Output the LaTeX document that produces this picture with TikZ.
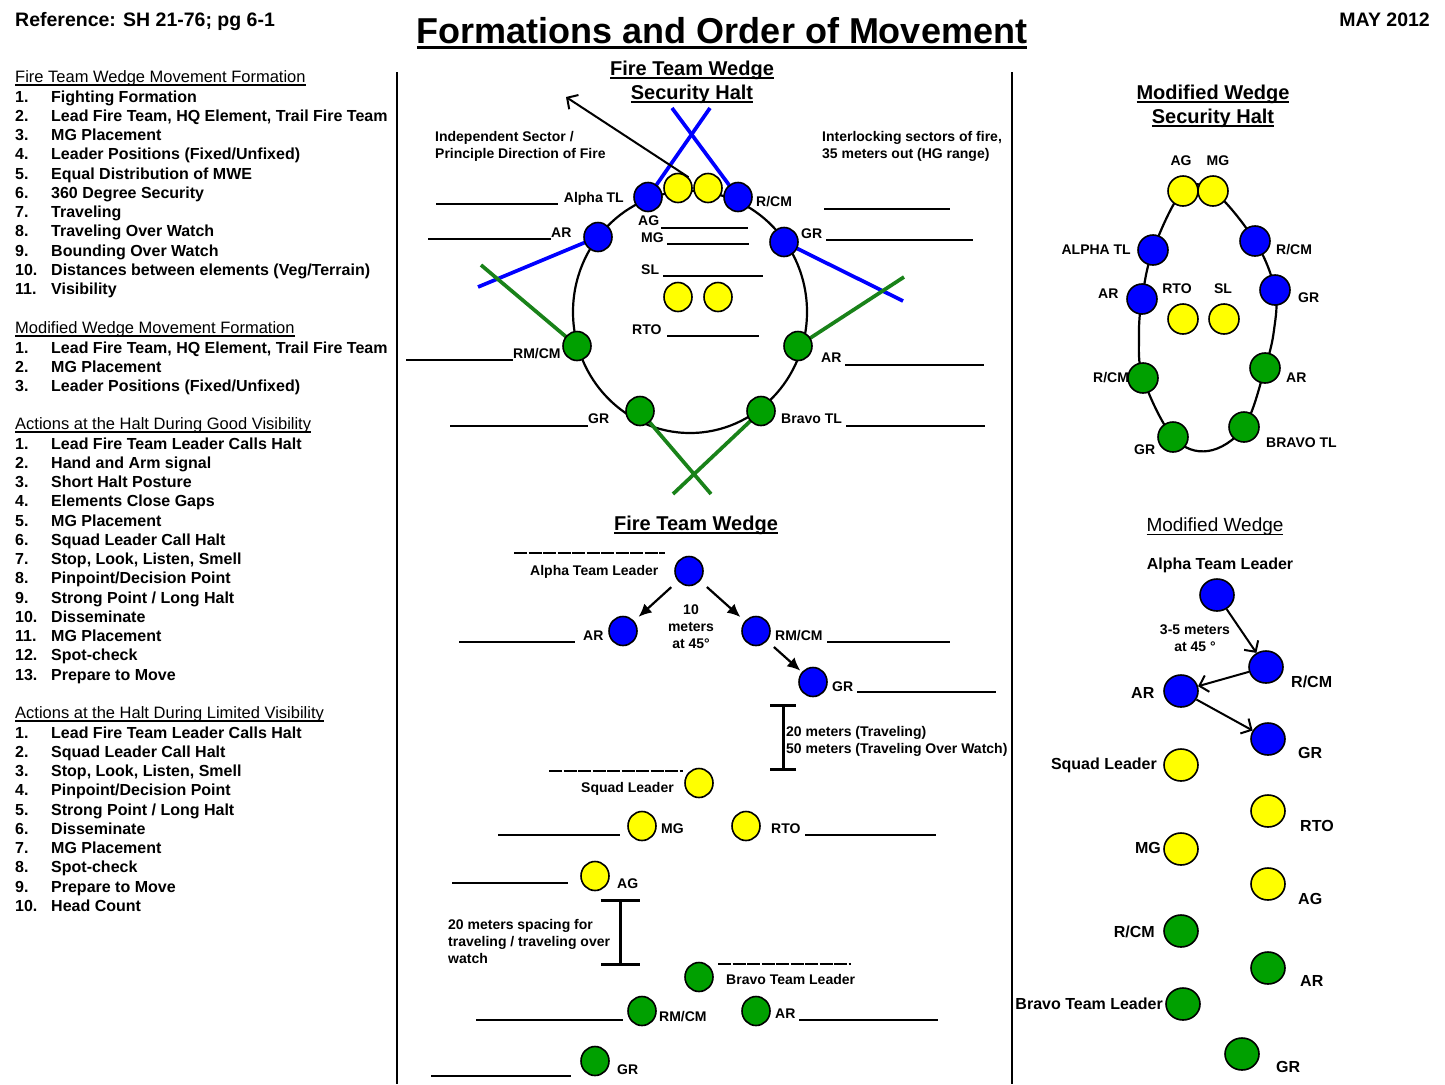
\documentclass[tikz,border=0pt]{standalone}
\usepackage{fontspec}
\setmainfont{Liberation Sans}
\usetikzlibrary{arrows.meta,shapes.geometric,backgrounds}

\definecolor{teamblue}{RGB}{0,0,255}
\definecolor{teamyellow}{RGB}{255,255,0}
\definecolor{teamgreen}{RGB}{0,160,0}
\definecolor{sectorgreen}{RGB}{25,130,25}

\newcommand\ulined[1]{\setbox0=\hbox{#1}\rlap{\rule[-0.17em]{\wd0}{0.08em}}\box0}

\tikzset{
  dot/.style={ellipse, draw, line width=1.6pt, inner sep=0pt, minimum width=28pt, minimum height=29pt},
  bdot/.style={dot, fill=teamblue},
  ydot/.style={dot, fill=teamyellow},
  gdot/.style={dot, fill=teamgreen},
  bigdot/.style={minimum width=34pt, minimum height=32pt},
  middot/.style={minimum width=30pt, minimum height=30pt},
  lab/.style={inner sep=0pt, font=\fontsize{14}{17}\selectfont\bfseries, text height=10pt, text depth=0pt},
  biglab/.style={lab, font=\fontsize{16}{19}\selectfont\bfseries, text height=11.5pt},
  item/.style={biglab, anchor=west},
  head/.style={item, font=\fontsize{16.5}{19}\selectfont},
  note/.style={inner sep=0pt, font=\fontsize{14}{17}\selectfont\bfseries, align=left, anchor=north west},
  title/.style={inner sep=0pt, font=\fontsize{20}{24}\selectfont\bfseries, align=center, anchor=north},
  blank/.style={line width=1.3pt},
  dashblank/.style={line width=1.3pt, dash pattern=on 13pt off 1.5pt},
  sector/.style={line width=3.7pt, line cap=butt},
  egg/.style={line width=2.2pt},
  solidarrow/.style={line width=2.2pt, -{Latex[length=13pt,width=12pt]}},
  openarrow/.style={line width=2pt, -{Straight Barb[length=8pt,width=17pt,line width=2pt]}},
  gap/.style={line width=3pt, {Bar[width=26pt]}-{Bar[width=26pt]}}
}

\begin{document}
\begin{tikzpicture}[x=1pt,y=-1pt]
\begin{scope}[on background layer]
  \fill[white] (0,0) rectangle (1445,1084);
\end{scope}
\useasboundingbox (0,0) rectangle (1445,1084);

% Header
\node[lab, anchor=west, font=\fontsize{19.5}{23}\selectfont\bfseries, text height=14pt] (ref) at (15,20) {Reference: SH 21-76; pg 6-1};
\node[lab, anchor=east, font=\fontsize{19.5}{23}\selectfont\bfseries, text height=14pt] (date) at (1430,20) {MAY 2012};
\node[lab, font=\fontsize{36}{40}\selectfont\bfseries, text height=26pt] (maintitle) at (722,30) {\ulined{Formations and Order of Movement}};

% Dividers
\draw[line width=2.5pt] (397,72) -- (397,1084);
\draw[line width=2.5pt] (1012,72) -- (1012,1084);

% Left column lists
\node[head] (h1) at (15,77) {\ulined{Fire Team Wedge Movement Formation}};
\foreach \txt [count=\i] in {Fighting Formation, {Lead Fire Team, HQ Element, Trail Fire Team}, MG Placement, Leader Positions (Fixed/Unfixed), Equal Distribution of MWE, 360 Degree Security, Traveling, Traveling Over Watch, Bounding Over Watch, Distances between elements (Veg/Terrain), Visibility}{
  \node[item] (an\i) at (15,{77+\i*19.25}) {\i.};
  \node[item] (at\i) at (51,{77+\i*19.25}) {\txt};
}
\node[head] (h2) at (15,328) {\ulined{Modified Wedge Movement Formation}};
\foreach \txt [count=\i] in {{Lead Fire Team, HQ Element, Trail Fire Team}, MG Placement, Leader Positions (Fixed/Unfixed)}{
  \node[item] (bn\i) at (15,{328+\i*19.25}) {\i.};
  \node[item] (bt\i) at (51,{328+\i*19.25}) {\txt};
}
\node[head] (h3) at (15,424) {\ulined{Actions at the Halt During Good Visibility}};
\foreach \txt [count=\i] in {Lead Fire Team Leader Calls Halt, Hand and Arm signal, Short Halt Posture, Elements Close Gaps, MG Placement, Squad Leader Call Halt, {Stop, Look, Listen, Smell}, Pinpoint/Decision Point, Strong Point / Long Halt, Disseminate, MG Placement, Spot-check, Prepare to Move}{
  \node[item] (cn\i) at (15,{424+\i*19.25}) {\i.};
  \node[item] (ct\i) at (51,{424+\i*19.25}) {\txt};
}
\node[head] (h4) at (15,713) {\ulined{Actions at the Halt During Limited Visibility}};
\foreach \txt [count=\i] in {Lead Fire Team Leader Calls Halt, Squad Leader Call Halt, {Stop, Look, Listen, Smell}, Pinpoint/Decision Point, Strong Point / Long Halt, Disseminate, MG Placement, Spot-check, Prepare to Move, Head Count}{
  \node[item] (dn\i) at (15,{713+\i*19.25}) {\i.};
  \node[item] (dt\i) at (51,{713+\i*19.25}) {\txt};
}

% Fire team wedge - security halt
\node[title] (sh1) at (692,60.6) {\ulined{Fire Team Wedge}\\\ulined{Security Halt}};
\node[note] (indep) at (435,131) {Independent Sector /\\Principle Direction of Fire};
\node[note] (inter) at (822,131) {Interlocking sectors of fire,\\35 meters out (HG range)};

\node[bdot] (atl) at (648,197) {};
\node[ydot] (ag) at (678,188) {};
\node[ydot] (mg) at (708,188) {};
\node[bdot] (rcm) at (738,197) {};
\node[bdot] (ar) at (598,237) {};
\node[bdot] (gr) at (784,242) {};
\node[ydot] (sl) at (678,297) {};
\node[ydot] (rto) at (718,297) {};
\node[gdot] (rmcm) at (577,346) {};
\node[gdot] (bar) at (798,346) {};
\node[gdot] (bgr) at (640,411) {};
\node[gdot] (btl) at (761,411) {};

\coordinate (atlend) at (710,108);
\coordinate (rcmend) at (672,108);
\coordinate (arend) at (478,287);
\coordinate (grend) at (903,301);
\coordinate (rmcmend) at (481,265);
\coordinate (barend) at (904,277);
\coordinate (bgrend) at (711,494);
\coordinate (btlend) at (673,494);
\coordinate (dirtip) at (566,97);

\begin{scope}[on background layer]
  \draw[egg] (690,312) ellipse [x radius=117, y radius=121];
  \draw[sector, teamblue] (atl.center) -- (atlend);
  \draw[sector, teamblue] (rcm.center) -- (rcmend);
  \draw[sector, teamblue] (ar.center) -- (arend);
  \draw[sector, teamblue] (gr.center) -- (grend);
  \draw[sector, sectorgreen] (rmcm.center) -- (rmcmend);
  \draw[sector, sectorgreen] (bar.center) -- (barend);
  \draw[sector, sectorgreen] (bgr.center) -- (bgrend);
  \draw[sector, sectorgreen] (btl.center) -- (btlend);
\end{scope}
\draw[openarrow] (ag.north east) -- (dirtip);

\node[lab, anchor=east] (latl) at (624,197) {Alpha TL};
\node[lab, anchor=west] (lrcm) at (756,201) {R/CM};
\node[lab, anchor=west] (lag) at (638,220) {AG};
\node[lab, anchor=west] (lmg) at (641,237) {MG};
\node[lab, anchor=west] (lsl) at (641,269) {SL};
\node[lab, anchor=west] (lrto) at (632,329) {RTO};
\node[lab, anchor=west] (lar) at (551,232) {AR};
\node[lab, anchor=west] (lgr) at (801,233) {GR};
\node[lab, anchor=west] (lrmcm) at (513,353) {RM/CM};
\node[lab, anchor=west] (lbar) at (821,357) {AR};
\node[lab, anchor=west] (lbgr) at (588,418) {GR};
\node[lab, anchor=west] (lbtl) at (781,418) {Bravo TL};
\foreach \xa/\xb/\yy in {436/558/204, 824/950/209, 661/748/228, 667/749/244, 663/763/276, 667/759/336, 428/551/239, 826/973/240, 406/513/360, 845/984/365, 450/588/426, 846/985/426}
  \draw[blank] (\xa,\yy) -- (\xb,\yy);

% Fire team wedge - movement
\node[lab, font=\fontsize{20}{24}\selectfont\bfseries, text height=14.3pt] (fw) at (696,523) {\ulined{Fire Team Wedge}};
\node[bdot] (atl2) at (689,571) {};
\node[bdot] (ar2) at (623,631) {};
\node[bdot] (rmcm2) at (756,631) {};
\node[bdot] (gr2) at (813,682) {};
\node[ydot] (sl2) at (699,783) {};
\node[ydot] (mg2) at (642,826) {};
\node[ydot] (rto2) at (746,826) {};
\node[ydot] (ag2) at (595,876) {};
\node[gdot] (btl2) at (699,977) {};
\node[gdot] (rmcm3) at (642,1011) {};
\node[gdot] (bar2) at (756,1011) {};
\node[gdot] (bgr2) at (595,1061) {};

\draw[solidarrow, shorten <=9pt, shorten >=6pt] (atl2) -- (ar2);
\draw[solidarrow, shorten <=9pt, shorten >=6pt] (atl2) -- (rmcm2);
\draw[solidarrow, shorten <=9pt, shorten >=2pt] (rmcm2) -- (gr2);
\node[inner sep=0pt, font=\fontsize{14}{17}\selectfont\bfseries, align=center] (ten) at (691,627) {10\\meters\\at 45°};

\coordinate (gap1top) at (783,704);
\coordinate (gap1bot) at (783,771);
\draw[gap] (gap1top) -- (gap1bot);
\node[note] (gap1note) at (786,725.8) {20 meters (Traveling)\\50 meters (Traveling Over Watch)};
\coordinate (gap2top) at (620,899);
\coordinate (gap2bot) at (620,966);
\draw[gap, {Bar[width=39pt]}-{Bar[width=39pt]}] (gap2top) -- (gap2bot);
\node[note] (gap2note) at (448,918.8) {20 meters spacing for\\traveling / traveling over\\watch};

\node[lab, anchor=west] (latl2) at (530,570) {Alpha Team Leader};
\node[lab, anchor=west] (lar2) at (583,635) {AR};
\node[lab, anchor=west] (lrmcm2) at (775,635) {RM/CM};
\node[lab, anchor=west] (lgr2) at (832,686) {GR};
\node[lab, anchor=west] (lsl2) at (581,787) {Squad Leader};
\node[lab, anchor=west] (lmg2) at (661,828) {MG};
\node[lab, anchor=west] (lrto2) at (771,828) {RTO};
\node[lab, anchor=west] (lag2) at (617,883) {AG};
\node[lab, anchor=west] (lbtl2) at (726,979) {Bravo Team Leader};
\node[lab, anchor=west] (lrmcm3) at (659,1016) {RM/CM};
\node[lab, anchor=west] (lbar2) at (775,1013) {AR};
\node[lab, anchor=west] (lbgr2) at (617,1069) {GR};
\foreach \xa/\xb/\yy in {459/575/642, 827/950/642, 857/996/692, 498/620/835, 805/936/835, 452/568/883, 476/623/1020, 799/938/1020, 431/571/1076}
  \draw[blank] (\xa,\yy) -- (\xb,\yy);
\foreach \xa/\xb/\yy in {514/665/553, 549/683/771, 718/851/964}
  \draw[dashblank] (\xa,\yy) -- (\xb,\yy);

% Modified wedge - security halt
\node[title] (sh2) at (1213,84.6) {\ulined{Modified Wedge}\\\ulined{Security Halt}};
\node[lab] (lag3) at (1181,160) {AG};
\node[lab] (lmg3) at (1218,160) {MG};
\node[lab, anchor=east] (latl3) at (1131,249) {ALPHA TL};
\node[lab, anchor=west] (lrcm3) at (1276,249) {R/CM};
\node[lab, anchor=west] (lar3) at (1098,293) {AR};
\node[lab, anchor=west] (lgr3) at (1298,297) {GR};
\node[lab] (lrto3) at (1177,288) {RTO};
\node[lab] (lsl3) at (1223,288) {SL};
\node[lab, anchor=west] (lrcm4) at (1093,377) {R/CM};
\node[lab, anchor=west] (lbar3) at (1286,377) {AR};
\node[lab, anchor=west] (lbgr3) at (1134,449) {GR};
\node[lab, anchor=west] (lbtl3) at (1266,442) {BRAVO TL};

\node[ydot, middot] (ag3) at (1183,191) {};
\node[ydot, middot] (mg3) at (1213,191) {};
\node[bdot, middot] (atl3) at (1153,250) {};
\node[bdot, middot] (rcm3) at (1255,241) {};
\node[bdot, middot] (ar3) at (1142,299) {};
\node[bdot, middot] (gr3) at (1275,290) {};
\node[ydot, middot] (rto3) at (1183,319) {};
\node[ydot, middot] (sl3) at (1224,319) {};
\node[gdot, middot] (rcm4) at (1143,378) {};
\node[gdot, middot] (bar3) at (1265,368) {};
\node[gdot, middot] (bgr3) at (1173,437) {};
\node[gdot, middot] (btl3) at (1244,427) {};
\begin{scope}[on background layer]
  \draw[egg] plot[smooth cycle, tension=0.6] coordinates {(ag3.center) (mg3.center) (rcm3.center) (gr3.center) (1274,330) (bar3.center) (btl3.center) (1208,451) (bgr3.center) (rcm4.center) (1139,335) (ar3.center) (atl3.center)};
\end{scope}

% Modified wedge - movement
\node[lab, font=\fontsize{19}{23}\selectfont, text height=13.6pt] (mw) at (1215,525) {\ulined{Modified Wedge}};
\node[biglab] (latl4) at (1220,564) {Alpha Team Leader};
\node[bdot, bigdot] (atl4) at (1217,595) {};
\node[bdot, bigdot] (rcm5) at (1266,667) {};
\node[bdot, bigdot] (ar4) at (1181,691) {};
\node[bdot, bigdot] (gr4) at (1268,739) {};
\node[ydot, bigdot] (sl4) at (1181,765) {};
\node[ydot, bigdot] (rto4) at (1268,811) {};
\node[ydot, bigdot] (mg4) at (1181,849) {};
\node[ydot, bigdot] (ag4) at (1268,884) {};
\node[gdot, bigdot] (rcm6) at (1181,931) {};
\node[gdot, bigdot] (bar4) at (1268,968) {};
\node[gdot, bigdot] (btl4) at (1183,1004) {};
\node[gdot, bigdot] (bgr4) at (1242,1054) {};

\draw[openarrow] (atl4) -- (rcm5);
\draw[openarrow] (rcm5) -- (ar4);
\draw[openarrow] (ar4) -- (gr4);
\node[inner sep=0pt, font=\fontsize{14}{17}\selectfont\bfseries, align=center] (three) at (1195,638.5) {3-5 meters\\at 45 °};

\node[biglab, anchor=west] (lrcm5) at (1291,682) {R/CM};
\node[biglab, anchor=west] (lar4) at (1131,693) {AR};
\node[biglab, anchor=west] (lgr4) at (1298,753) {GR};
\node[biglab, anchor=east] (lsl4) at (1157,764) {Squad Leader};
\node[biglab, anchor=west] (lrto4) at (1300,826) {RTO};
\node[biglab, anchor=east] (lmg4) at (1161,848) {MG};
\node[biglab, anchor=west] (lag4) at (1298,899) {AG};
\node[biglab, anchor=east] (lrcm6) at (1155,932) {R/CM};
\node[biglab, anchor=west] (lbar4) at (1300,981) {AR};
\node[biglab, anchor=east] (lbtl4) at (1163,1004) {Bravo Team Leader};
\node[biglab, anchor=west] (lbgr4) at (1276,1067) {GR};
\end{tikzpicture}
\end{document}
